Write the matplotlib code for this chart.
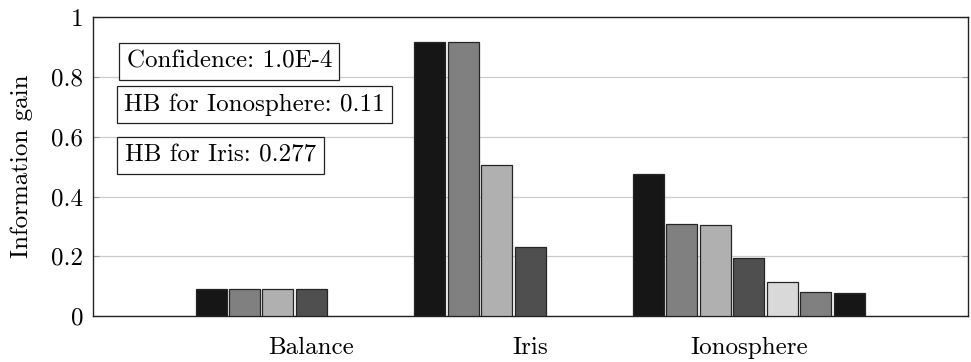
import numpy as np
import matplotlib
matplotlib.use("Agg")
import matplotlib.pyplot as plt

plt.rcParams["font.family"] = "serif"
plt.rcParams["font.serif"] = ["cmr10", "DejaVu Serif"]
plt.rcParams["axes.formatter.use_mathtext"] = True

categories = ["Balance", "Iris", "Ionosphere"]
nan = np.nan
# una lista per ogni serie, nan dove la serie non c'e'
s1 = [0.091, 0.918, 0.474]
s2 = [0.091, 0.918, 0.309]
s3 = [0.091, 0.507, 0.306]
s4 = [0.091, 0.230, 0.195]
s5 = [nan, nan, 0.115]
s6 = [nan, nan, 0.080]
s7 = [nan, nan, 0.076]
series = [s1, s2, s3, s4, s5, s6, s7]
colors = ["#161616", "#808080", "#b0b0b0", "#4f4f4f", "#d9d9d9", "#808080", "#161616"]

yticks = [0, 0.2, 0.4, 0.6, 0.8, 1]
ytick_labels = ["0", "0.2", "0.4", "0.6", "0.8", "1"]
notes = ["Confidence: 1.0E-4", "HB for Ionosphere: 0.11", "HB for Iris: 0.277"]

fs = 18
fig = plt.figure(figsize=(9.71, 3.62), dpi=100)
ax = fig.add_axes([0.0955, 0.127, 0.901, 0.825])

x = np.arange(len(categories))
step = 0.153
width = 0.1416
for i, vals in enumerate(series):
    ax.bar(x + (i - 3) * step, vals, width, color=colors[i],
           edgecolor="#262626", linewidth=0.9, zorder=3)

ax.set_xlim(-1, 3)
ax.set_ylim(0, 1)
ax.set_xticks(x)
ax.set_xticklabels(categories, fontsize=fs)
ax.set_yticks(yticks)
ax.set_yticklabels(ytick_labels, fontsize=fs)
ax.tick_params(axis="x", length=0, pad=15)
ax.tick_params(axis="y", direction="in", length=4, color="#999999",
               left=True, right=True, pad=7)
ax.grid(axis="y", color="#cccccc", linewidth=0.9, zorder=0)
ax.set_axisbelow(True)
for sp in ax.spines.values():
    sp.set_linewidth(1.0)
    sp.set_color("#222222")

ax.set_ylabel("Information gain", fontsize=fs)
ax.yaxis.set_label_coords(-0.068, 0.5)

# i riquadri con le note
pos = [(0.156, 0.853), (0.185, 0.708), (0.146, 0.538)]
for (px, py), t in zip(pos, notes):
    ax.text(px, py, t, transform=ax.transAxes, ha="center", va="center",
            fontsize=fs, zorder=5,
            bbox=dict(boxstyle="square,pad=0.3", facecolor="white",
                      edgecolor="#222222", linewidth=0.9))

fig.savefig("out.png", dpi=100)
